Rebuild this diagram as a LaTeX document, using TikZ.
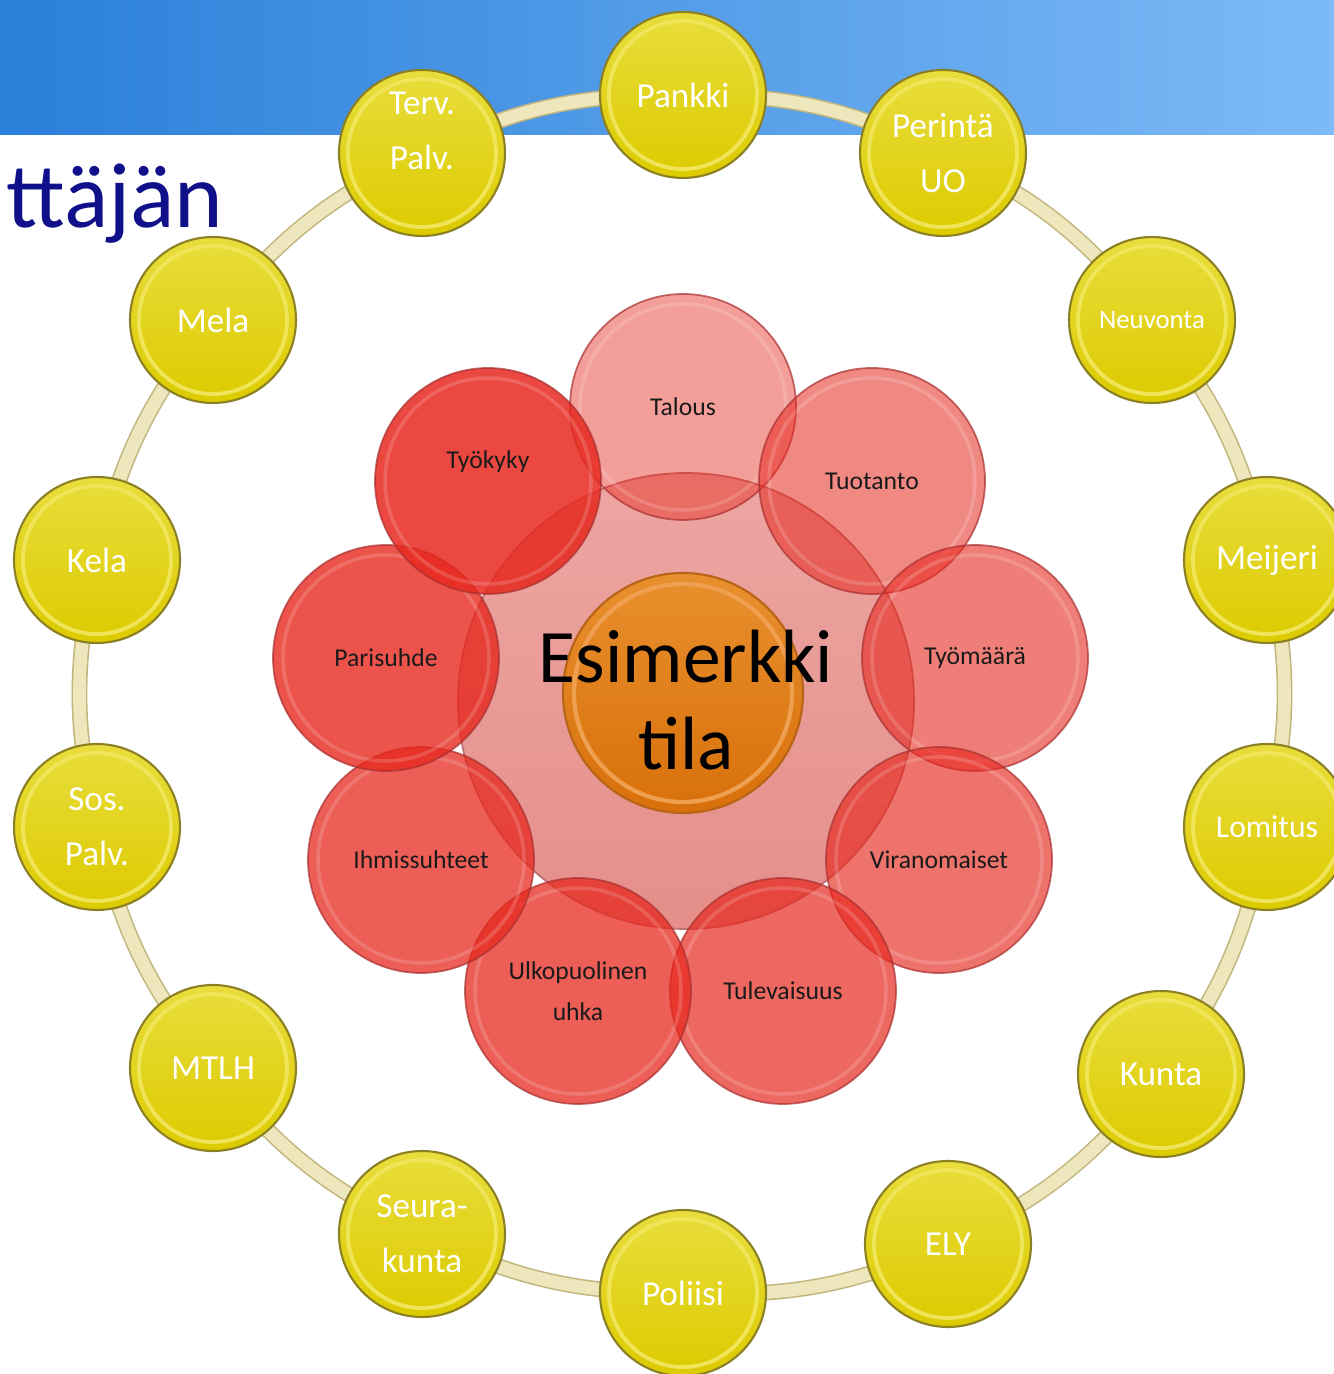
\documentclass[tikz,border=0pt]{standalone}
\usepackage{fontspec}
\setmainfont{Carlito}

\definecolor{bandleft}{HTML}{2A7FD9}
\definecolor{bandright}{HTML}{7DBAF7}
\definecolor{titleblue}{HTML}{10108A}
\definecolor{ringfill}{HTML}{EEE7BE}
\definecolor{ringedge}{HTML}{C2B67E}
\definecolor{buttontop}{HTML}{E9DD3C}
\definecolor{buttonbottom}{HTML}{DCCB00}
\definecolor{buttonedge}{HTML}{8C8024}
\definecolor{buttonrim}{HTML}{F0E458}
\definecolor{petalred}{HTML}{E6281E}
\definecolor{petaledge}{HTML}{A83030}
\definecolor{petaltext}{HTML}{1A1A1A}
\definecolor{coretop}{HTML}{EDA6A2}
\definecolor{corebottom}{HTML}{E58E8A}
\definecolor{coreedge}{HTML}{C07070}
\definecolor{hubtop}{HTML}{E8902E}
\definecolor{hubbottom}{HTML}{D8700A}
\definecolor{hubedge}{HTML}{B86418}
\definecolor{hubrim}{HTML}{EEA050}

\pgfdeclarelayer{band}
\pgfdeclarelayer{ring}
\pgfsetlayers{band,ring,main}

\tikzset{
  button/.style={circle, minimum size=1.66cm, inner sep=0pt,
    draw=buttonedge, line width=0.6pt,
    top color=buttontop, bottom color=buttonbottom,
    text=white, align=center, font=\fontsize{10}{15.6}\selectfont,
    path picture={\draw[buttonrim, line width=1.1pt]
      (path picture bounding box.center) circle (0.74cm);}},
  petal/.style={circle, minimum size=2.26cm, inner sep=0pt,
    fill=petalred, fill opacity=#1, text opacity=1,
    draw=petaledge, draw opacity=0.7, line width=0.5pt,
    text=petaltext, align=center, font=\fontsize{7.3}{11.6}\selectfont,
    path picture={\draw[white, draw opacity=0.16, line width=1pt]
      (path picture bounding box.center) circle (1.03cm);}},
  ringline/.style={draw=ringedge, line width=0.45pt,
    double=ringfill, double distance=3.6pt},
}

\begin{document}
\begin{tikzpicture}
\useasboundingbox (0,0) rectangle (13.34,13.74);
\clip (0,0) rectangle (13.34,13.74);

% top band
\begin{pgfonlayer}{band}
\fill[left color=bandleft, right color=bandright] (0,12.390) rectangle (13.340,13.740);
\end{pgfonlayer}

\node[anchor=base west, text=titleblue, font=\fontsize{26.3}{30}\selectfont, inner sep=0pt]
  (title) at (0.060,11.460) {ttäjän};

% centre
\node[circle, minimum size=4.56cm, inner sep=0pt, draw=coreedge, line width=0.5pt,
  top color=coretop, bottom color=corebottom] (core) at (6.860,6.730) {};

% petals
\node[petal=0.45] (talous)       at (6.830,9.670) {Talous};
\node[petal=0.55] (tuotanto)     at (8.720,8.930) {Tuotanto};
\node[petal=0.60] (tyomaara)     at (9.750,7.160) {Työmäärä};
\node[petal=0.65] (viranomaiset) at (9.390,5.140) {Viranomaiset};
\node[petal=0.70] (tulevaisuus)  at (7.830,3.830) {Tulevaisuus};
\node[petal=0.75] (uhka)         at (5.780,3.830) {Ulkopuolinen\\uhka};
\node[petal=0.75] (ihmissuhteet) at (4.210,5.140) {Ihmissuhteet};
\node[petal=0.80] (parisuhde)    at (3.860,7.160) {Parisuhde};
\node[petal=0.85, text depth=0.42cm] (tyokyky) at (4.880,8.930) {Työkyky};

\node[circle, minimum size=2.40cm, inner sep=0pt, draw=hubedge, line width=0.6pt,
  top color=hubtop, bottom color=hubbottom,
  path picture={\draw[hubrim, line width=1.2pt] (path picture bounding box.center) circle (1.09cm);}]
  (hub) at (6.830,6.810) {};
\node[align=center, font=\fontsize{21.5}{24.7}\selectfont, text=black] (hublabel) at (6.860,6.740) {Esimerkki\\tila};

% outer ring
\node[button] (pankki)     at (6.830,12.790) {Pankki};
\node[button] (perinta)    at (9.430,12.210) {Perintä\\UO};
\node[button, font=\fontsize{7.6}{10}\selectfont] (neuvonta) at (11.520,10.540) {Neuvonta};
\node[button] (meijeri)    at (12.670,8.140) {Meijeri};
\node[button, font=\fontsize{9}{11}\selectfont] (lomitus) at (12.670,5.470) {Lomitus};
\node[button] (kunta)      at (11.610,3.000) {Kunta};
\node[button] (ely)        at (9.480,1.300) {ELY};
\node[button] (poliisi)    at (6.830,0.810) {Poliisi};
\node[button] (seurakunta) at (4.220,1.400) {Seura-\\kunta};
\node[button] (mtlh)       at (2.130,3.060) {MTLH};
\node[button] (sos)        at (0.970,5.470) {Sos.\\Palv.};
\node[button] (kela)       at (0.970,8.140) {Kela};
\node[button] (mela)       at (2.130,10.540) {Mela};
\node[button, text depth=0.45cm] (terv) at (4.220,12.210) {Terv.\\Palv.};

\begin{pgfonlayer}{ring}
\foreach \a/\b in {pankki/perinta, perinta/neuvonta, neuvonta/meijeri, meijeri/lomitus,
  lomitus/kunta, kunta/ely, ely/poliisi, poliisi/seurakunta, seurakunta/mtlh,
  mtlh/sos, sos/kela, kela/mela, mela/terv, terv/pankki}
  \draw[ringline] (\a.center) to[bend left=13] (\b.center);
\end{pgfonlayer}
\end{tikzpicture}
\end{document}
